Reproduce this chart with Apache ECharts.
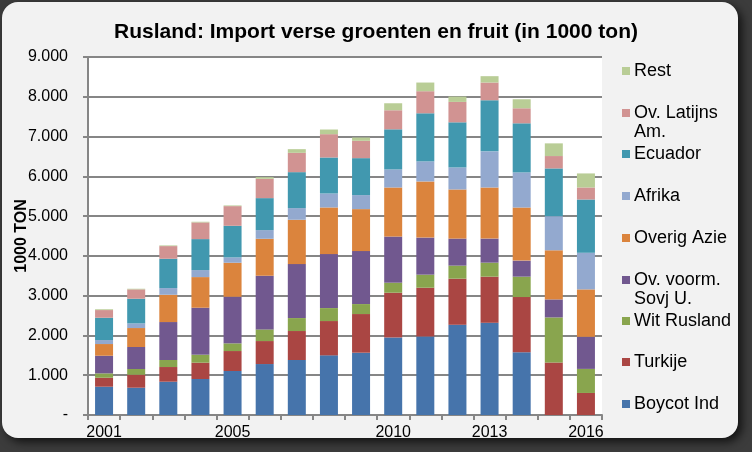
<!DOCTYPE html>
<html>
<head>
<meta charset="utf-8">
<script src="https://cdn.jsdelivr.net/npm/echarts@6/dist/echarts.min.js"></script>
<style>
html,body{margin:0;padding:0;background:#3c3c3c;}
#c{width:752px;height:452px;}
</style>
</head>
<body>
<div id="c"></div>
<script>
var years = ['2001','2002','2003','2004','2005','2006','2007','2008','2009','2010','2011','2012','2013','2014','2015','2016'];
var shownYears = ['2001','2005','2010','2013','2016'];
var yTicks = ['-','1.000','2.000','3.000','4.000','5.000','6.000','7.000','8.000','9.000'];

var boycotInd   = [711, 686, 837, 905,1106,1281,1382,1499,1566,1949,1974,2268,2318,1579,   0,   0];
var turkije     = [226, 327, 369, 410, 502, 578, 729, 863, 972,1125,1226,1159,1160,1386,1319, 554];
var witRusland  = [110, 143, 176, 201, 193, 293, 326, 326, 251, 252, 328, 328, 352, 513,1134, 605];
var ovSovj      = [443, 553, 955,1181,1172,1349,1357,1357,1332,1160, 932, 680, 605, 403, 453, 807];
var overigAzie  = [294, 477, 686, 770, 855, 929,1114,1173,1055,1234,1412,1235,1285,1335,1235,1192];
var afrika      = [100, 117, 168, 176, 134, 218, 293, 351, 352, 454, 504, 554, 908, 882, 857, 924];
var ecuador     = [561, 620, 737, 779, 795, 804, 904, 905, 929,1008,1209,1134,1285,1235,1201,1336];
var ovLatijns   = [193, 235, 318, 419, 494, 486, 486, 586, 436, 479, 555, 513, 445, 378, 311, 302];
var rest        = [ 20,  16,  17,  17,  17,  42,  92, 117,  83, 176, 218, 134, 160, 227, 319, 353];

var seriesNames = ['Boycot Ind','Turkije','Wit Rusland','Ov. voorm. Sovj U.','Overig Azie','Afrika','Ecuador','Ov. Latijns Am.','Rest'];
var seriesData  = [boycotInd, turkije, witRusland, ovSovj, overigAzie, afrika, ecuador, ovLatijns, rest];
var colors = ['#4674AB','#AA4643','#89A54E','#71588F','#DB843D','#93A9CF','#4198AF','#D19392','#B9CD96'];

// legend order (top to bottom) and first-line centre y
var legendOrder = ['Rest','Ov. Latijns Am.','Ecuador','Afrika','Overig Azie','Ov. voorm. Sovj U.','Wit Rusland','Turkije','Boycot Ind'];
var legendY = [71,113,154,196,238,280,321,362,404];
var legendText = {
  'Ov. Latijns Am.': ' \nOv. Latijns\nAm.',
  'Ov. voorm. Sovj U.': ' \nOv. voorm.\nSovj U.'
};

var LH = 19;
var legends = legendOrder.map(function(n,i){
  var multi = !!legendText[n];
  return {
    data:[n], orient:'vertical', left:622, top: legendY[i] - (multi ? LH*1.5 : LH/2),
    padding:0, itemWidth:8, itemHeight:8, icon:'rect', selectedMode:false,
    formatter: function(name){ return legendText[name] || name; },
    textStyle:{fontFamily:'Liberation Sans, Arial, sans-serif', fontSize:18, color:'#000', lineHeight:LH, padding:[0,0,0,-1]}
  };
});

var chart = echarts.init(document.getElementById('c'), null, {renderer:'canvas'});
chart.setOption({
  animation:false,
  backgroundColor:'#3c3c3c',
  graphic:[
    {type:'rect', shape:{x:2,y:2,width:736,height:436,r:16}, style:{fill:'#F2F2F2', shadowBlur:10, shadowColor:'rgba(0,0,0,0.7)', shadowOffsetX:4, shadowOffsetY:4}, z:-10, silent:true}
  ],
  title:{
    text:'Rusland: Import verse groenten en fruit (in 1000 ton)',
    left:'center', top:22, padding:0,
    textStyle:{fontFamily:'Liberation Sans Narrow, Arial Narrow, Liberation Sans, Arial', fontWeight:'bold', fontSize:21, color:'#000'}
  },
  legend: legends,
  grid:{left:88, right:150, top:57, bottom:37, show:true, backgroundColor:'#ffffff', borderWidth:0},
  xAxis:{
    type:'category', data:years,
    axisLine:{lineStyle:{color:'#868686', width:2}},
    axisTick:{show:true, interval:0, length:5, lineStyle:{color:'#868686', width:2}},
    axisLabel:{
      interval:function(idx, val){ return shownYears.indexOf(val) >= 0; },
      fontFamily:'Liberation Sans, Arial, sans-serif', fontSize:16, color:'#000', margin:10
    }
  },
  yAxis:{
    type:'value', min:0, max:9000, interval:1000,
    name:'1000 TON', nameLocation:'middle', nameGap:58, nameRotate:90, nameMoveOverlap:false,
    nameTextStyle:{fontFamily:'Liberation Sans, Arial, sans-serif', fontWeight:'bold', fontSize:16, color:'#000'},
    axisLine:{show:true, lineStyle:{color:'#868686', width:2}},
    axisTick:{show:true, length:5, lineStyle:{color:'#868686', width:2}},
    axisLabel:{
      formatter:function(v){ return yTicks[Math.round(v/1000)]; },
      fontFamily:'Liberation Sans, Arial, sans-serif', fontSize:16, color:'#000', margin:20
    },
    splitLine:{lineStyle:{color:'#868686', width:2}}
  },
  series: seriesNames.map(function(n,i){
    return {name:n, type:'bar', stack:'total', data:seriesData[i], barWidth:18,
      itemStyle:{color:colors[i]}};
  })
});
</script>
</body>
</html>
